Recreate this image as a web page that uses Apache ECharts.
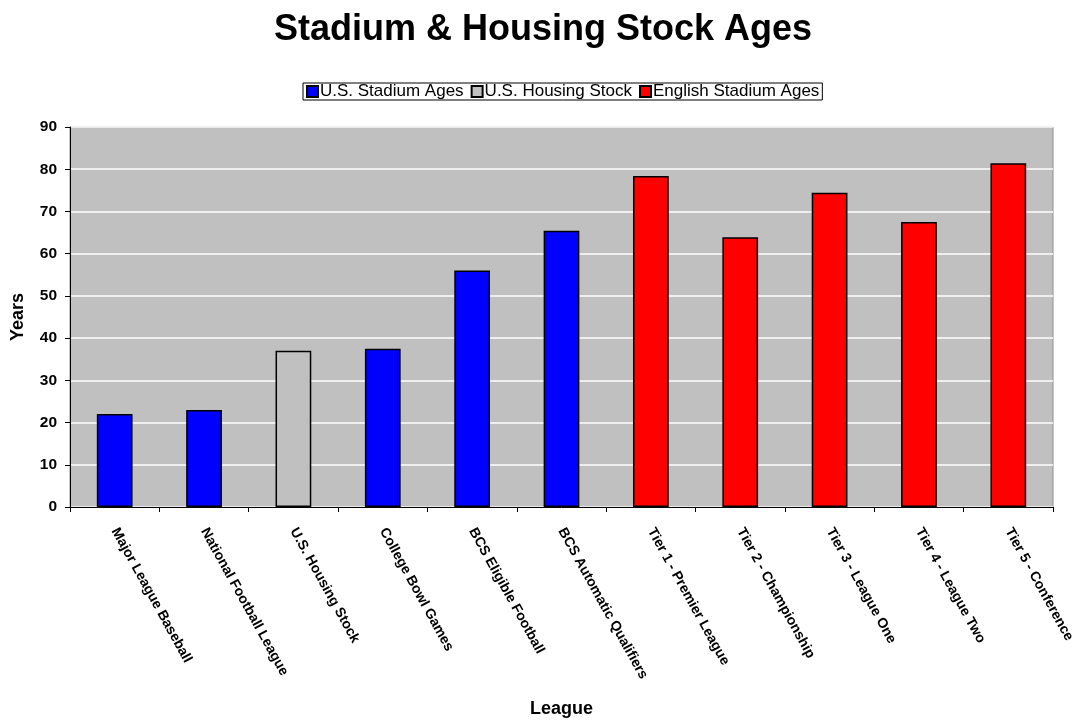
<!DOCTYPE html>
<html><head><meta charset="utf-8">
<script src="https://cdn.jsdelivr.net/npm/echarts@6/dist/echarts.min.js"></script>
<style>html,body{margin:0;padding:0;background:#fff}#c{width:1086px;height:723px}</style>
</head><body><div id="c"></div>
<script>
const categories = ["Major League Baseball","National Football League","U.S. Housing Stock","College Bowl Games","BCS Eligible Football","BCS Automatic Qualifiers","Tier 1 - Premier League","Tier 2 - Championship","Tier 3 - League One","Tier 4 - League Two","Tier 5 - Conference"];
const usStadium = [22, 23, null, 37.5, 56, 65.4, null, null, null, null, null];
const usHousing = [null, null, 37, null, null, null, null, null, null, null, null];
const englishStadium = [null, null, null, null, null, null, 78.4, 63.9, 74.4, 67.5, 81.4];
const seriesNames = ["U.S. Stadium Ages","U.S. Housing Stock","English Stadium Ages"];
const yTicks = {min:0, max:90, interval:10};

const font = "'Liberation Sans', Arial, sans-serif";
const chart = echarts.init(document.getElementById('c'), null, {renderer:'canvas'});
function mk(name, data, color){
  return {name, type:'bar', stack:'all', data, barWidth:'40%',
    itemStyle:{color, borderColor:'#000', borderWidth:1.5}};
}
chart.setOption({
  animation:false,
  backgroundColor:'#fff',
  title:{text:'Stadium & Housing Stock Ages', left:'center', top:7,
    textStyle:{fontFamily:font, fontSize:36, fontWeight:'bold', color:'#000'}},
  legend:{top:83, left:303, data:seriesNames, icon:'rect', itemWidth:11, itemHeight:11, itemGap:7,
    borderColor:'#000', borderWidth:1, padding:[0,3], borderRadius:0,
    textStyle:{fontFamily:font, fontSize:17, lineHeight:17, color:'#000', padding:[0,0,0,-3]}},
  grid:{left:70, right:33, top:127, bottom:215, show:true, backgroundColor:'#c0c0c0', borderColor:'#909090', borderWidth:1, containLabel:false},
  xAxis:{type:'category', data:categories, name:'League', nameLocation:'middle', nameGap:193,
    nameTextStyle:{fontFamily:font, fontSize:18, fontWeight:'bold', color:'#000'},
    axisLine:{lineStyle:{color:'#000', width:1}},
    axisTick:{show:true, alignWithLabel:false, length:5, lineStyle:{color:'#000'}},
    axisLabel:{rotate:-61, interval:0, fontFamily:font, fontSize:14, fontWeight:'bold', color:'#000', margin:22}},
  yAxis:{type:'value', min:yTicks.min, max:yTicks.max, interval:yTicks.interval, name:'Years', nameLocation:'middle', nameGap:43,
    nameTextStyle:{fontFamily:font, fontSize:18, fontWeight:'bold', color:'#000'},
    axisLine:{show:true, lineStyle:{color:'#000', width:1}},
    axisTick:{show:true, length:5, lineStyle:{color:'#000'}},
    splitLine:{lineStyle:{color:'#fff', width:1.5}},
    axisLabel:{fontFamily:font, fontSize:15.5, fontWeight:'bold', color:'#000', margin:13}},
  series:[mk(seriesNames[0], usStadium, '#0000ff'), mk(seriesNames[1], usHousing, '#c0c0c0'), mk(seriesNames[2], englishStadium, '#ff0000')]
});
</script></body></html>
